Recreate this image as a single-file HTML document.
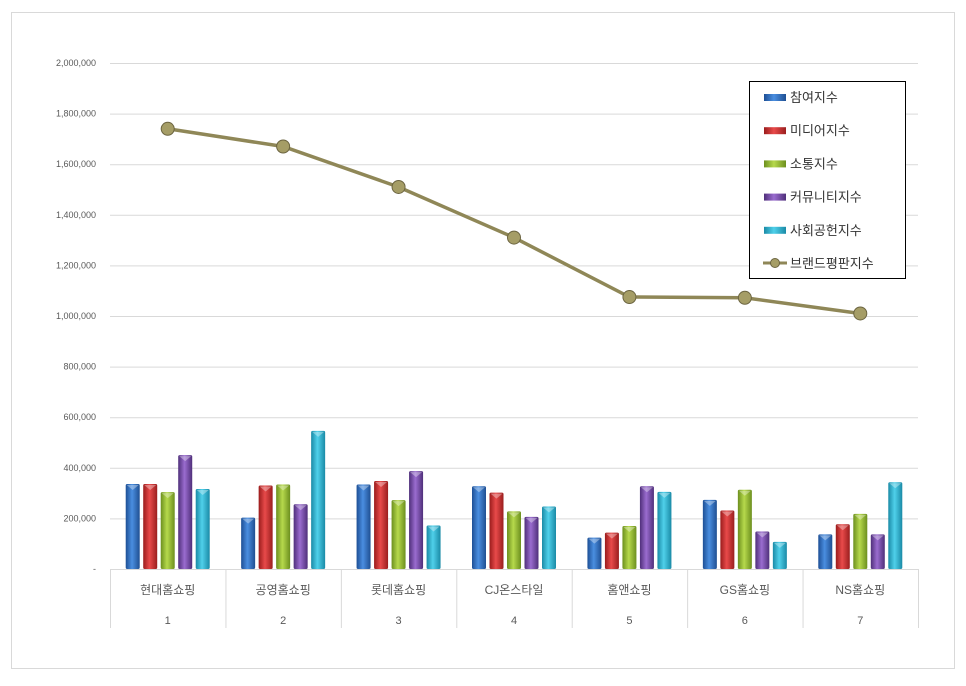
<!DOCTYPE html>
<html><head><meta charset="utf-8"><style>
body{margin:0;background:#fff}
svg text{font-family:"Liberation Sans","Noto Sans CJK KR",sans-serif}
</style></head><body>
<svg id="c" width="966" height="681" xmlns="http://www.w3.org/2000/svg">
<defs>
<linearGradient id="g0" x1="0" x2="1"><stop offset="0" stop-color="#1d4f95"/><stop offset=".45" stop-color="#4a8ee0"/><stop offset="1" stop-color="#1f4f92"/></linearGradient>
<linearGradient id="g1" x1="0" x2="1"><stop offset="0" stop-color="#9a1c1c"/><stop offset=".45" stop-color="#e84a4a"/><stop offset="1" stop-color="#9a1e1e"/></linearGradient>
<linearGradient id="g2" x1="0" x2="1"><stop offset="0" stop-color="#6c8f1e"/><stop offset=".45" stop-color="#b6d94c"/><stop offset="1" stop-color="#6c8f1e"/></linearGradient>
<linearGradient id="g3" x1="0" x2="1"><stop offset="0" stop-color="#4f2f7a"/><stop offset=".45" stop-color="#9a6ccf"/><stop offset="1" stop-color="#4f2f7a"/></linearGradient>
<linearGradient id="g4" x1="0" x2="1"><stop offset="0" stop-color="#1a8aa6"/><stop offset=".45" stop-color="#4fd0ea"/><stop offset="1" stop-color="#1a8aa6"/></linearGradient>
</defs>
<rect x="11.5" y="12.5" width="943" height="656" fill="#fff" stroke="#d9d9d9"/>
<g id="grid"></g><g id="bars"></g><g id="line"></g><g id="xaxis"></g>
<g id="legend"><rect x="749.5" y="81.5" width="156" height="197" fill="#fff" stroke="#000"/></g>
</svg>
<script>
const categories=["현대홈쇼핑","공영홈쇼핑","롯데홈쇼핑","CJ온스타일","홈앤쇼핑","GS홈쇼핑","NS홈쇼핑"];
const ranks=["1","2","3","4","5","6","7"];
const seriesNames=["참여지수","미디어지수","소통지수","커뮤니티지수","사회공헌지수","브랜드평판지수"];
const participation=[336000,203000,334000,327000,124000,273000,137000];
const media=[336000,330000,348000,302000,144000,231000,177000];
const communication=[304000,334000,272000,228000,170000,313000,218000];
const community=[450000,256000,387000,206000,327000,148000,137000];
const social=[316000,546000,172000,247000,305000,107000,343000];
const brand=[1740000,1670000,1510000,1310000,1075000,1072000,1010000];
const yTicks=[0,200000,400000,600000,800000,1000000,1200000,1400000,1600000,1800000,2000000];
const NS="http://www.w3.org/2000/svg";
const x0=110,x1=918,y0=569,y1=63,yMax=2000000;
const bw=(x1-x0)/categories.length;
const y=v=>y0-(v/yMax)*(y0-y1);
const xc=i=>x0+bw*(i+0.5);
function mk(t,a,p,txt){const e=document.createElementNS(NS,t);for(const k in a)e.setAttribute(k,a[k]);if(txt!==undefined)e.textContent=txt;p.appendChild(e);return e;}
const grid=document.getElementById('grid');
yTicks.forEach(v=>{
 const l=mk('line',{x1:x0,x2:x1,y1:y(v)+.5,y2:y(v)+.5,stroke:'#d9d9d9'},grid);
 
 
 const t=mk('text',{x:96,y:y(v)+3,'text-anchor':'end','font-size':9,fill:'#595959'},grid,v===0?'-':v.toLocaleString('en-US'));
 
 
});
const bars=document.getElementById('bars');
const series=[participation,media,communication,community,social];
const W=14,G=17.5;
series.forEach((s,si)=>{
 s.forEach((v,i)=>{
  const bx=xc(i)-2.5*G+si*G+(G-W)/2, by=y(v);
  const r=mk('rect',{x:bx,y:by,width:W,height:y0-by,fill:`url(#g${si})`,rx:1.5},bars);
  
  
  mk('path',{d:`M${bx+1} ${by+1}L${bx+W-1} ${by+1}L${bx+W/2} ${by+6}Z`,fill:'#fff',opacity:.35},bars);
 });
});
const lg=document.getElementById('line');
const pl=mk('polyline',{points:brand.map((v,i)=>xc(i)+','+y(v)).join(' '),fill:'none',stroke:'#8f8757','stroke-width':3.5},lg);


brand.forEach((v,i)=>{
 const c=mk('circle',{cx:xc(i),cy:y(v),r:6.5,fill:'#a59d66',stroke:'#6b6440','stroke-width':1},lg);
 
 
});
const xa=document.getElementById('xaxis');
mk('line',{x1:x0,x2:x1,y1:y0+.5,y2:y0+.5,stroke:'#d9d9d9'},xa);
for(let i=0;i<=categories.length;i++)mk('line',{x1:x0+bw*i+.5,x2:x0+bw*i+.5,y1:y0,y2:628,stroke:'#d9d9d9'},xa);
categories.forEach((c,i)=>{
 const t=mk('text',{x:xc(i),y:594,'text-anchor':'middle','font-size':12,fill:'#595959'},xa,c);
 
 
 const r=mk('text',{x:xc(i),y:624,'text-anchor':'middle','font-size':11,fill:'#595959'},xa,ranks[i]);
 
 
});
const leg=document.getElementById('legend');
seriesNames.forEach((n,i)=>{
 const yy=97+i*33.2;
 if(i<5){mk('rect',{x:764,y:yy-3,width:22,height:7,fill:`url(#g${i})`},leg);}
 else{mk('line',{x1:763,x2:787,y1:yy,y2:yy,stroke:'#8f8757','stroke-width':3},leg);mk('circle',{cx:775,cy:yy,r:4.5,fill:'#a59d66',stroke:'#6b6440'},leg);}
 const t=mk('text',{x:790,y:yy+5,'font-size':13,fill:'#333'},leg,n);
 
 
});
</script>
</body></html>
